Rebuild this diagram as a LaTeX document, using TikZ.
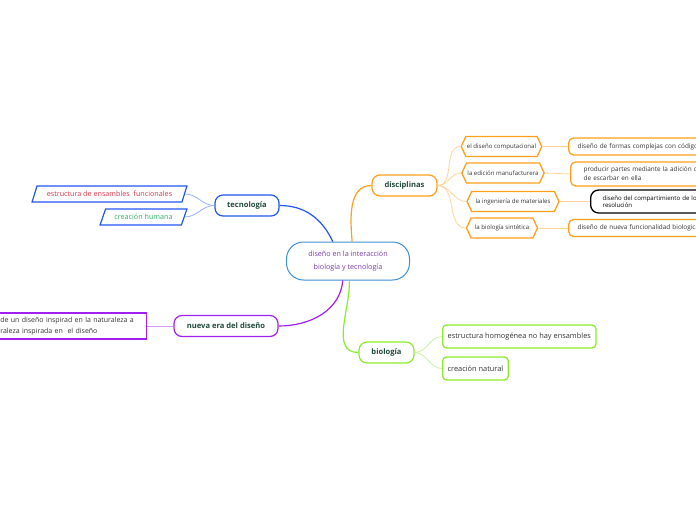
\documentclass[tikz,border=0pt]{standalone}
\usepackage{fontspec}
\setmainfont{Open Sans}
\usetikzlibrary{shapes.geometric,shapes.symbols}

\definecolor{hubblue}{HTML}{3D8FD8}
\definecolor{hubtext}{HTML}{7A3DAA}
\definecolor{tecblue}{HTML}{2255EE}
\definecolor{teclight}{HTML}{9AB0F5}
\definecolor{discorange}{HTML}{FF9F1A}
\definecolor{disclight}{HTML}{FFD49A}
\definecolor{erapurple}{HTML}{A020F0}
\definecolor{eralight}{HTML}{D59AF5}
\definecolor{biogreen}{HTML}{8CEB2A}
\definecolor{biolight}{HTML}{C8F29E}
\definecolor{nodetext}{HTML}{1F4A3A}
\definecolor{redtext}{HTML}{D9364A}
\definecolor{greentext}{HTML}{2FAE63}
\definecolor{leaftext}{HTML}{333333}

\tikzset{
  hub/.style={draw=hubblue, line width=1pt, rounded corners=17pt, fill=white,
    minimum width=123pt, minimum height=38pt, align=center, text=hubtext,
    font=\fontsize{7.2}{13}\selectfont},
  branch/.style={draw=#1, line width=1.2pt, rounded corners=8pt, fill=white,
    minimum height=21pt, text=nodetext, font=\fontsize{7.6}{8}\selectfont\bfseries},
  parabox/.style={draw=tecblue, line width=1.2pt, trapezium, trapezium left angle=60,
    trapezium right angle=120, trapezium stretches=true, minimum height=16pt,
    inner ysep=1pt, inner xsep=1pt, font=\fontsize{7.2}{8}\selectfont},
  chevbox/.style={draw=discorange, line width=1.3pt, signal, signal to=west and east,
    signal pointer angle=130, minimum height=20pt, inner ysep=1pt, inner xsep=1pt,
    font=\fontsize{6.1}{7}\selectfont, text=leaftext},
  leafbox/.style={draw=#1, line width=1.3pt, rounded corners=5pt, anchor=west,
    align=left, text=leaftext, font=\fontsize{6.4}{9}\selectfont},
  twig/.style={draw=#1, line width=0.8pt},
  limb/.style={draw=#1, line width=1.2pt}
}

\begin{document}
\begin{tikzpicture}[x=1pt, y=1pt]
  \useasboundingbox (0,0) rectangle (696,-520);
  \clip (0,0) rectangle (696,-520);

  % centro
  \node[hub] (hub) at (348,-261) {diseño en la interacción\\biología y tecnología};

  % ramas
  \node[branch=tecblue, minimum width=64pt] (tec) at (247,-205.5) {tecnología};
  \node[branch=discorange, minimum width=65pt] (disc) at (404.5,-185.5) {disciplinas};
  \node[branch=erapurple, minimum width=104pt] (era) at (226,-326) {nueva era del diseño};
  \node[branch=biogreen, minimum width=55pt] (bio) at (386.5,-352.5) {biología};

  \draw[limb=tecblue] (hub.128) to[out=115, in=0] (tec.east);
  \draw[limb=discorange] (hub.78) to[out=95, in=180] (disc.west);
  \draw[limb=erapurple] (hub.255) to[out=-95, in=0] (era.east);
  \draw[limb=biogreen] (hub.274) to[out=-88, in=180] (bio.west);

  % tecnología
  \node[parabox, minimum width=155pt, text=redtext] (ensam) at (109.5,-194) {estructura de ensambles\ \ funcionales};
  \node[parabox, minimum width=87pt, text=greentext] (humana) at (143.5,-217) {creación humana};
  \draw[twig=teclight] (tec.west) to[out=180, in=0] (ensam.east);
  \draw[twig=teclight] (tec.west) to[out=180, in=0] (humana.east);

  % disciplinas
  \node[chevbox, minimum width=70pt] (comp) at (501.5,-146.5) {el diseño computacional};
  \node[chevbox, minimum width=73pt] (manu) at (503,-173) {la edición manufacturera};
  \node[chevbox, minimum width=92pt] (mate) at (513,-201.5) {la ingeniería de materiales};
  \node[chevbox, minimum width=71pt] (sint) at (502,-228) {la biología sintética};
  \foreach \k in {comp,manu,mate,sint}
    \draw[twig=disclight] (disc.east) to[out=0, in=180] (\k.west);

  \node[leafbox=discorange, text width=140pt, minimum height=17pt, inner xsep=9pt] (formas) at (568,-146.5) {diseño de formas complejas con código};
  \node[leafbox=discorange, text width=140pt, minimum height=24pt, inner xsep=13pt] (partes) at (570,-174) {producir partes mediante la adición d\\de escarbar en ella};
  \node[leafbox=black, text width=140pt, minimum height=23pt, rounded corners=8pt, inner xsep=12pt,
        text=black, font=\fontsize{6.1}{7}\selectfont] (compart) at (590,-201.5) {diseño del compartimiento de los\\resolución};
  \node[leafbox=discorange, text width=140pt, minimum height=17pt, inner xsep=9pt] (funcio) at (568,-228) {diseño de nueva funcionalidad biologica};
  \draw[twig=disclight] (comp.east) -- (formas.west);
  \draw[twig=disclight] (manu.east) -- (partes.west);
  \draw[twig=disclight] (mate.east) -- (compart.west);
  \draw[twig=disclight] (sint.east) -- (funcio.west);

  % nueva era del diseño
  \node[draw=erapurple, line width=1.3pt, anchor=east, text width=143pt, inner xsep=3pt,
        minimum height=26pt, align=left, text=leaftext, font=\fontsize{7}{11}\selectfont]
        (inspira) at (147,-326) {de un diseño inspirad en la naturaleza a\\raleza inspirada en\ \ el diseño};
  \draw[twig=eralight] (era.west) -- (inspira.east);

  % biología
  \node[leafbox=biogreen, rounded corners=4pt, minimum height=23pt, inner xsep=5pt, font=\fontsize{7.4}{8}\selectfont] (homog) at (442,-336.5) {estructura homogénea no hay ensambles};
  \node[leafbox=biogreen, rounded corners=4pt, minimum height=23pt, inner xsep=5pt, font=\fontsize{7.4}{8}\selectfont] (natural) at (442,-368.5) {creación natural};
  \draw[twig=biolight] (bio.east) to[out=0, in=180] (homog.west);
  \draw[twig=biolight] (bio.east) to[out=0, in=180] (natural.west);
\end{tikzpicture}
\end{document}
